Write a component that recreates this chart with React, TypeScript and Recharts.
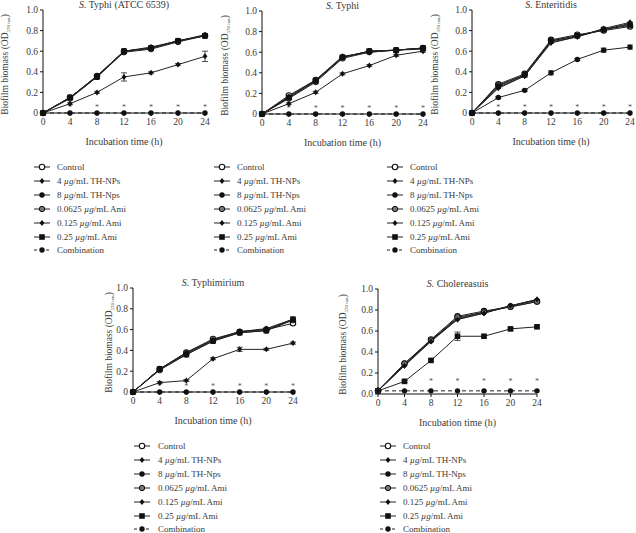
import React from "react";
import { LineChart, Line, XAxis, YAxis, ErrorBar } from "recharts";

// Biofilm biomass (OD570) over 24 h for five Salmonella strains.
const TIMES = [0, 4, 8, 12, 16, 20, 24];
const Y_TICKS = [0, 0.2, 0.4, 0.6, 0.8, 1.0];

// S. Typhi (ATCC 6539)
const P1_CONTROL = [0, 0.15, 0.36, 0.6, 0.63, 0.7, 0.75];
const P1_TH4 = [0, 0.09, 0.2, 0.35, 0.39, 0.47, 0.55];
const P1_TH4_ERR = [0, 0.01, 0.01, 0.04, 0.01, 0.01, 0.05];
const P1_TH8 = [0, 0.15, 0.35, 0.6, 0.63, 0.7, 0.75];
const P1_AMI0625 = [0, 0.14, 0.35, 0.59, 0.62, 0.69, 0.75];
const P1_AMI125 = [0, 0.15, 0.36, 0.6, 0.64, 0.7, 0.76];
const P1_AMI25 = [0, 0.15, 0.35, 0.6, 0.63, 0.7, 0.75];
const P1_COMBO = [0, 0, 0, 0, 0, 0, 0];
const P1_SIG = [null, 0.07, 0.07, 0.07, 0.07, 0.07, 0.07];

// S. Typhi
const P2_CONTROL = [0, 0.18, 0.33, 0.55, 0.61, 0.62, 0.64];
const P2_TH4 = [0, 0.1, 0.21, 0.39, 0.47, 0.57, 0.61];
const P2_TH4_ERR = [0, 0.01, 0.01, 0.01, 0.01, 0.01, 0.01];
const P2_TH8 = [0, 0.16, 0.32, 0.55, 0.61, 0.62, 0.64];
const P2_AMI0625 = [0, 0.15, 0.31, 0.54, 0.6, 0.62, 0.63];
const P2_AMI125 = [0, 0.17, 0.33, 0.56, 0.6, 0.62, 0.64];
const P2_AMI25 = [0, 0.16, 0.32, 0.55, 0.61, 0.62, 0.64];
const P2_COMBO = [0, 0, 0, 0, 0, 0, 0];
const P2_SIG = [null, 0.07, 0.07, 0.07, 0.07, 0.07, 0.07];

// S. Enteritidis
const P3_CONTROL = [0, 0.28, 0.38, 0.71, 0.76, 0.8, 0.84];
const P3_TH4 = [0, 0.24, 0.36, 0.68, 0.74, 0.81, 0.87];
const P3_TH8 = [0, 0.15, 0.22, 0.39, 0.52, 0.61, 0.64];
const P3_TH8_ERR = [0, 0.01, 0.01, 0.02, 0.01, 0.02, 0.02];
const P3_AMI0625 = [0, 0.27, 0.37, 0.7, 0.75, 0.81, 0.85];
const P3_AMI125 = [0, 0.25, 0.36, 0.69, 0.74, 0.82, 0.88];
const P3_AMI25 = [0, 0.26, 0.37, 0.7, 0.75, 0.81, 0.86];
const P3_COMBO = [0, 0, 0, 0, 0, 0, 0];
const P3_SIG = [null, 0.07, 0.07, 0.07, 0.07, 0.07, 0.07];

// S. Typhimirium
const P4_CONTROL = [0, 0.22, 0.38, 0.51, 0.58, 0.6, 0.66];
const P4_TH4 = [0, 0.09, 0.11, 0.32, 0.41, 0.41, 0.47];
const P4_TH4_ERR = [0, 0.01, 0.01, 0.01, 0.02, 0.01, 0.01];
const P4_TH8 = [0, 0.22, 0.37, 0.5, 0.58, 0.6, 0.7];
const P4_AMI0625 = [0, 0.21, 0.36, 0.49, 0.57, 0.59, 0.69];
const P4_AMI125 = [0, 0.22, 0.38, 0.5, 0.58, 0.61, 0.7];
const P4_AMI25 = [0, 0.22, 0.36, 0.49, 0.57, 0.59, 0.7];
const P4_COMBO = [0, 0, 0, 0, 0, 0, 0];
const P4_SIG = [null, 0.07, 0.07, 0.07, 0.07, 0.07, 0.07];

// S. Cholereasuis
const P5_CONTROL = [0.03, 0.29, 0.52, 0.74, 0.79, 0.83, 0.88];
const P5_TH4 = [0.03, 0.27, 0.51, 0.71, 0.77, 0.84, 0.9];
const P5_TH8 = [0.03, 0.28, 0.51, 0.72, 0.78, 0.84, 0.89];
const P5_AMI0625 = [0.03, 0.29, 0.51, 0.73, 0.78, 0.83, 0.88];
const P5_AMI125 = [0.03, 0.27, 0.5, 0.71, 0.77, 0.84, 0.9];
const P5_AMI25 = [0.03, 0.12, 0.32, 0.55, 0.55, 0.62, 0.64];
const P5_AMI25_ERR = [0, 0.01, 0.01, 0.04, 0.01, 0.01, 0.01];
const P5_COMBO = [0.03, 0.03, 0.03, 0.03, 0.03, 0.03, 0.03];
const P5_SIG = [null, 0.13, 0.13, 0.13, 0.13, 0.13, 0.13];

type Shape = "open" | "filled" | "half" | "diamond" | "square";

const SERIES: { key: string; name: string; shape: Shape; dashed?: boolean }[] = [
  { key: "control", name: "Control", shape: "open" },
  { key: "th4", name: "4 µg/mL TH-NPs", shape: "diamond" },
  { key: "th8", name: "8 µg/mL TH-Nps", shape: "filled" },
  { key: "ami0625", name: "0.0625 µg/mL Ami", shape: "half" },
  { key: "ami125", name: "0.125 µg/mL Ami", shape: "diamond" },
  { key: "ami25", name: "0.25 µg/mL Ami", shape: "square" },
  { key: "combo", name: "Combination", shape: "filled", dashed: true },
];

const FONT = "'Liberation Serif', 'DejaVu Serif', serif";
const INK = "#3a3a3a";

function Marker({ shape, cx, cy }: { shape: Shape; cx: number; cy: number }) {
  switch (shape) {
    case "open":
      return <circle cx={cx} cy={cy} r={2.7} fill="#fff" stroke="#111" strokeWidth={1.1} />;
    case "half":
      return <circle cx={cx} cy={cy} r={2.7} fill="#777" stroke="#111" strokeWidth={1} />;
    case "filled":
      return <circle cx={cx} cy={cy} r={2.7} fill="#111" />;
    case "diamond":
      return (
        <polygon
          points={`${cx},${cy - 3} ${cx + 2.4},${cy} ${cx},${cy + 3} ${cx - 2.4},${cy}`}
          fill="#111"
        />
      );
    case "square":
      return <rect x={cx - 2.8} y={cy - 2.8} width={5.6} height={5.6} fill="#111" />;
  }
}

interface PanelDef {
  title: string;
  rows: Record<string, number | null>[];
  midKey: string;
  zeroLabel: string;
  axisX: number;
  plotRight: number;
  yTop: number;
  yBottom: number;
  labelX: number;
}

function buildRows(
  cols: Record<string, (number | null)[]>,
): Record<string, number | null>[] {
  return TIMES.map((t, i) => {
    const row: Record<string, number | null> = { t };
    for (const k of Object.keys(cols)) row[k] = cols[k][i];
    return row;
  });
}

const PANELS: PanelDef[] = [
  {
    title: "Typhi (ATCC 6539)",
    rows: buildRows({
      control: P1_CONTROL, th4: P1_TH4, err: P1_TH4_ERR, th8: P1_TH8,
      ami0625: P1_AMI0625, ami125: P1_AMI125, ami25: P1_AMI25, combo: P1_COMBO, sig: P1_SIG,
    }),
    midKey: "th4", zeroLabel: "0",
    axisX: 43, plotRight: 205, yTop: 10, yBottom: 113, labelX: 7,
  },
  {
    title: "Typhi",
    rows: buildRows({
      control: P2_CONTROL, th4: P2_TH4, err: P2_TH4_ERR, th8: P2_TH8,
      ami0625: P2_AMI0625, ami125: P2_AMI125, ami25: P2_AMI25, combo: P2_COMBO, sig: P2_SIG,
    }),
    midKey: "th4", zeroLabel: "0",
    axisX: 262, plotRight: 423, yTop: 11, yBottom: 114, labelX: 227,
  },
  {
    title: "Enteritidis",
    rows: buildRows({
      control: P3_CONTROL, th4: P3_TH4, th8: P3_TH8, err: P3_TH8_ERR,
      ami0625: P3_AMI0625, ami125: P3_AMI125, ami25: P3_AMI25, combo: P3_COMBO, sig: P3_SIG,
    }),
    midKey: "th8", zeroLabel: "0",
    axisX: 472, plotRight: 630, yTop: 10, yBottom: 113, labelX: 437,
  },
  {
    title: "Typhimirium",
    rows: buildRows({
      control: P4_CONTROL, th4: P4_TH4, err: P4_TH4_ERR, th8: P4_TH8,
      ami0625: P4_AMI0625, ami125: P4_AMI125, ami25: P4_AMI25, combo: P4_COMBO, sig: P4_SIG,
    }),
    midKey: "th4", zeroLabel: "0",
    axisX: 133, plotRight: 293, yTop: 288, yBottom: 392, labelX: 111,
  },
  {
    title: "Cholereasuis",
    rows: buildRows({
      control: P5_CONTROL, th4: P5_TH4, th8: P5_TH8, ami0625: P5_AMI0625,
      ami125: P5_AMI125, ami25: P5_AMI25, err: P5_AMI25_ERR, combo: P5_COMBO, sig: P5_SIG,
    }),
    midKey: "ami25", zeroLabel: "0.0",
    axisX: 378, plotRight: 537, yTop: 289, yBottom: 394, labelX: 345,
  },
];

const LEGENDS = [
  { markerX: 33, textX: 57, y0: 167 },
  { markerX: 213, textX: 237, y0: 167 },
  { markerX: 386, textX: 410, y0: 167 },
  { markerX: 133, textX: 158, y0: 446 },
  { markerX: 379, textX: 403, y0: 446 },
];

const ML = 6;
const YW = 24;
const MT = 10;
const MR = 5;
const MB = 8;
const XH = 34;

function Panel({ p }: { p: PanelDef }) {
  const left = p.axisX - ML - YW;
  const top = p.yTop - MT;
  const width = p.plotRight - left + MR;
  const height = p.yBottom - top + XH + MB;
  // draw order: zero line, middle series, then the overlapping top group
  const order = ["combo", p.midKey, ...SERIES.map((s) => s.key).filter((k) => k !== "combo" && k !== p.midKey)];
  const axisStyle = { fontSize: 9.5, fill: INK, fontFamily: FONT };
  return (
    <>
      <div
        style={{
          position: "absolute",
          left: p.axisX,
          width: p.plotRight - p.axisX,
          top: p.yTop - 11,
          textAlign: "center",
          fontSize: 10,
          lineHeight: "12px",
          fontFamily: FONT,
          color: INK,
          whiteSpace: "nowrap",
        }}
      >
        <i>S.</i> {p.title}
      </div>
      <div
        style={{
          position: "absolute",
          left: p.labelX - 60,
          top: (p.yTop + p.yBottom) / 2 - 6,
          width: 120,
          textAlign: "center",
          fontSize: 9.5,
          lineHeight: "12px",
          fontFamily: FONT,
          color: INK,
          transform: "rotate(-90deg)",
          whiteSpace: "nowrap",
        }}
      >
        Biofilm biomass (OD<sub style={{ fontSize: 5 }}>570 nm</sub>)
      </div>
      <div style={{ position: "absolute", left, top }}>
        <LineChart
          width={width}
          height={height}
          data={p.rows}
          margin={{ top: MT, right: MR, left: ML, bottom: MB }}
        >
          <XAxis
            dataKey="t"
            type="number"
            domain={[0, 24]}
            ticks={TIMES}
            height={XH}
            tick={axisStyle}
            tickSize={3}
            axisLine={{ stroke: "#111" }}
            tickLine={{ stroke: "#111" }}
            label={{
              value: "Incubation time (h)",
              position: "insideBottom",
              offset: 2,
              style: { fontSize: 10, fill: INK, fontFamily: FONT },
            }}
          />
          <YAxis
            type="number"
            domain={[0, 1]}
            ticks={Y_TICKS}
            width={YW}
            tick={axisStyle}
            tickSize={3}
            axisLine={{ stroke: "#111" }}
            tickLine={{ stroke: "#111" }}
            tickFormatter={(v: number) => (v === 0 ? p.zeroLabel : v.toFixed(1))}
          />
          <Line
            dataKey="sig"
            stroke="none"
            isAnimationActive={false}
            dot={(d: any) =>
              d.cy == null ? (
                <g key={`sig-${d.index}`} />
              ) : (
                <text
                  key={`sig-${d.index}`}
                  x={d.cx}
                  y={d.cy + 4}
                  textAnchor="middle"
                  fontSize={8}
                  fill="#555"
                  fontFamily={FONT}
                >
                  *
                </text>
              )
            }
          />
          {order.map((k) => {
            const s = SERIES.find((x) => x.key === k)!;
            return (
              <Line
                key={k}
                dataKey={k}
                stroke="#222"
                strokeWidth={1}
                strokeDasharray={s.dashed ? "4 3" : undefined}
                isAnimationActive={false}
                dot={(d: any) => <Marker key={`${k}-${d.index}`} shape={s.shape} cx={d.cx} cy={d.cy} />}
              >
                {k === p.midKey && (
                  <ErrorBar dataKey="err" width={3} stroke="#222" strokeWidth={0.8} direction="y" />
                )}
              </Line>
            );
          })}
        </LineChart>
      </div>
    </>
  );
}

function LegendName({ name }: { name: string }) {
  const i = name.indexOf("µg");
  if (i < 0) return <>{name}</>;
  return (
    <>
      {name.slice(0, i)}
      <i>µg</i>
      {name.slice(i + 2)}
    </>
  );
}

function SeriesLegend({ markerX, textX, y0 }: { markerX: number; textX: number; y0: number }) {
  return (
    <>
      {SERIES.map((s, i) => {
        const y = y0 + i * 13.9;
        return (
          <React.Fragment key={s.key}>
            <svg
              width={18}
              height={8}
              style={{ position: "absolute", left: markerX, top: y - 4 }}
            >
              <line
                x1={1}
                x2={17}
                y1={4}
                y2={4}
                stroke="#222"
                strokeWidth={1}
                strokeDasharray={s.dashed ? "3 3" : undefined}
              />
              <Marker shape={s.shape} cx={9} cy={4} />
            </svg>
            <div
              style={{
                position: "absolute",
                left: textX,
                top: y - 6,
                fontSize: 9,
                lineHeight: "12px",
                fontFamily: FONT,
                color: INK,
                whiteSpace: "nowrap",
              }}
            >
              <LegendName name={s.name} />
            </div>
          </React.Fragment>
        );
      })}
    </>
  );
}

export default function App() {
  return (
    <div
      style={{
        position: "absolute",
        left: 0,
        top: 0,
        width: 636,
        height: 533,
        overflow: "hidden",
        background: "#fff",
      }}
    >
      {PANELS.map((p, i) => (
        <Panel key={i} p={p} />
      ))}
      {LEGENDS.map((l, i) => (
        <SeriesLegend key={i} {...l} />
      ))}
    </div>
  );
}
